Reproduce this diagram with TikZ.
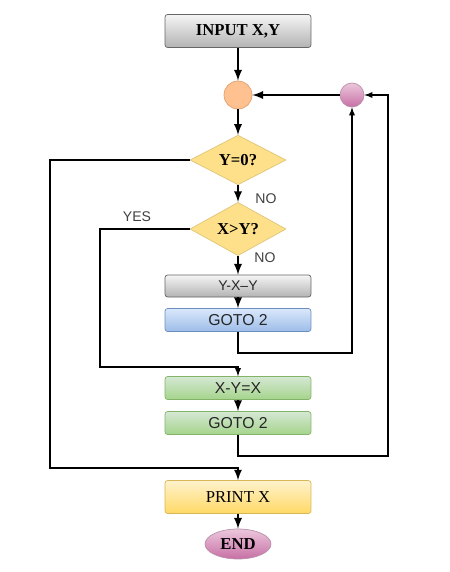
\documentclass[tikz,border=0pt]{standalone}
\usepackage{fontspec}
\setmainfont{Liberation Serif}
\setsansfont{Liberation Sans}
\usetikzlibrary{shapes.geometric, positioning}

\definecolor{grayline}{HTML}{666666}
\definecolor{yelline}{HTML}{D6B656}
\definecolor{blueline}{HTML}{6C8EBF}
\definecolor{greenline}{HTML}{82B366}
\definecolor{pinkline}{HTML}{996185}
\definecolor{orangeline}{HTML}{E0A070}
\definecolor{graytop}{HTML}{F5F5F5}
\definecolor{graybot}{HTML}{B3B3B3}
\definecolor{bluetop}{HTML}{DAE8FC}
\definecolor{bluebot}{HTML}{9DBDE8}
\definecolor{greentop}{HTML}{D5E8D4}
\definecolor{greenbot}{HTML}{A5D48C}
\definecolor{yeltop}{HTML}{FFF2CC}
\definecolor{yelbot}{HTML}{FFD966}
\definecolor{pinktop}{HTML}{EBC8DC}
\definecolor{pinkbot}{HTML}{C86FA5}
\definecolor{decfill}{HTML}{FFE08A}
\definecolor{orfill}{HTML}{FFC18F}

\tikzset{
  box/.style={rectangle, rounded corners=1.5pt, minimum width=2.92cm, inner sep=0pt},
  serifbold/.style={font=\fontsize{9.5}{11}\selectfont\bfseries},
  sanstext/.style={font=\sffamily\fontsize{9}{11}\selectfont, text=black!85},
  decide/.style={diamond, draw=yelline!80, fill=decfill, minimum width=1.92cm, minimum height=0.92cm, inner sep=0pt, serifbold},
  tag/.style={font=\sffamily\fontsize{8}{10}\selectfont, text=black!75},
  line/.style={draw, line width=0.6pt},
  flow/.style={draw, line width=1.1pt, -latex},
}

\begin{document}
\begin{tikzpicture}[x=0.02cm, y=-0.02cm]  % pixel grid of the reference
    \useasboundingbox (0,0) rectangle (450,572);
    % boxes and decisions
    \node[box, minimum height=0.66cm, draw=grayline, top color=graytop, bottom color=graybot, serifbold] (input) at (238,31) {INPUT X,Y};
    \node[circle, draw=orangeline, fill=orfill, minimum size=0.56cm, inner sep=0pt] (join) at (238,95) {};
    \node[circle, draw=pinkline!70, top color=pinktop, bottom color=pinkbot, minimum size=0.48cm, inner sep=0pt] (back) at (352,95) {};
    \node[decide] (yzero) at (238,160) {Y=0?};
    \node[decide] (xgty) at (238,229) {X>Y?};
    \node[box, minimum height=0.44cm, draw=grayline, top color=graytop, bottom color=graybot, font=\sffamily\fontsize{8}{10}\selectfont, text=black!85] (sub) at (238,286) {Y-X–Y};
    \node[box, minimum height=0.46cm, draw=blueline, top color=bluetop, bottom color=bluebot, sanstext] (gotoa) at (238,320) {GOTO 2};
    \node[box, minimum height=0.46cm, draw=greenline, top color=greentop, bottom color=greenbot, sanstext] (diff) at (238,388) {X-Y=X};
    \node[box, minimum height=0.46cm, draw=greenline, top color=greentop, bottom color=greenbot, sanstext] (gotob) at (238,423) {GOTO 2};
    \node[box, minimum height=0.66cm, draw=yelline, top color=yeltop, bottom color=yelbot, font=\fontsize{9.5}{11}\selectfont] (print) at (238,497) {PRINT X};
    \node[ellipse, draw=pinkline!70, top color=pinktop, bottom color=pinkbot, minimum width=1.32cm, minimum height=0.6cm, inner sep=0pt, serifbold] (stop) at (238,544) {END};
    % labels
    \node[tag] (noa) at (266,199) {NO};
    \node[tag] (yes) at (137,217) {YES};
    \node[tag] (nob) at (265,258) {NO};
    % bends
    \coordinate (zerobend) at (50,468);
    \coordinate (yesbend) at (100,367);
    \coordinate (loopa) at (352,353);
    \coordinate (loopb) at (388,456);
    % main flow
    \draw[flow] (input) -- (join);
    \draw[flow] (join) -- (yzero);
    \draw[flow] (yzero) -- (xgty);
    \draw[flow] (xgty) -- (sub);
    \draw[flow] (sub) -- (gotoa);
    \draw[flow] (diff) -- (gotob);
    \draw[flow] (print) -- (stop);
    \draw[flow] (back) -- (join);
    % branches and loops
    \draw[line, line width=1pt, -latex] (yzero.west) -| (zerobend) -- (zerobend -| print.north) -- (print.north);
    \draw[line, -latex] (xgty.west) -| (yesbend) -- (yesbend -| diff.north) -- (diff.north);
    \draw[line, -latex] (gotoa.south) |- (loopa) -- (back.south);
    \draw[line, -latex] (gotob.south) |- (loopb) |- (back.east);
\end{tikzpicture}
\end{document}
